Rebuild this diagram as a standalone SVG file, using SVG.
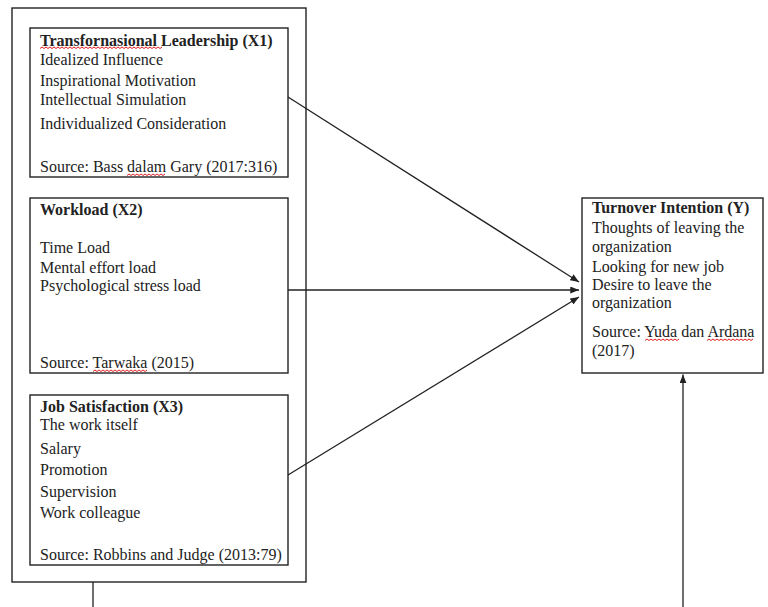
<svg xmlns="http://www.w3.org/2000/svg" width="768" height="607" viewBox="0 0 768 607">
<style>
.box{fill:#fff;stroke:#222;stroke-width:1.4}
.t{font-family:"Liberation Serif","Times New Roman",serif;font-size:16px;fill:#222}
.b{font-weight:bold}
.con{fill:none;stroke:#222;stroke-width:1.3}
.sq{fill:none;stroke:#e02020;stroke-width:1}
</style>
<defs>
<marker id="ah" viewBox="0 0 10 8" refX="10" refY="4" markerWidth="9" markerHeight="7" markerUnits="userSpaceOnUse" orient="auto">
<path d="M0,0 L10,4 L0,8 Z" fill="#222"/>
</marker>
</defs>
<rect width="768" height="607" fill="#fff"/>
<g id="outer"><rect class="box" x="12" y="8" width="294" height="574"/></g>
<g id="x1">
<rect class="box" x="30" y="28" width="258" height="149"/>
<text class="t b" x="40" y="46">Transfornasional Leadership (X1)</text>
<text class="t" x="40" y="65">Idealized Influence</text>
<text class="t" x="40" y="86">Inspirational Motivation</text>
<text class="t" x="40" y="105">Intellectual Simulation</text>
<text class="t" x="40" y="129">Individualized Consideration</text>
<text class="t" x="40" y="172">Source: Bass dalam Gary (2017:316)</text>
<path class="sq" d="M40,48.5 l2,-1.5 l2,1.5 l2,-1.5 l2,1.5 l2,-1.5 l2,1.5 l2,-1.5 l2,1.5 l2,-1.5 l2,1.5 l2,-1.5 l2,1.5 l2,-1.5 l2,1.5 l2,-1.5 l2,1.5 l2,-1.5 l2,1.5 l2,-1.5 l2,1.5 l2,-1.5 l2,1.5 l2,-1.5 l2,1.5 l2,-1.5 l2,1.5 l2,-1.5 l2,1.5 l2,-1.5 l2,1.5 l2,-1.5 l2,1.5 l2,-1.5 l2,1.5 l2,-1.5 l2,1.5 l2,-1.5 l2,1.5 l2,-1.5 l2,1.5 l2,-1.5 l2,1.5 l2,-1.5 l2,1.5 l2,-1.5 l2,1.5 l2,-1.5 l2,1.5 l2,-1.5 l2,1.5 l2,-1.5 l2,1.5 l2,-1.5 l2,1.5 l2,-1.5 l2,1.5 l2,-1.5 l2,1.5 l2,-1.5 l2,1.5 l2,-1.5"/>
<path class="sq" d="M127,175.5 l2,-1.5 l2,1.5 l2,-1.5 l2,1.5 l2,-1.5 l2,1.5 l2,-1.5 l2,1.5 l2,-1.5 l2,1.5 l2,-1.5 l2,1.5 l2,-1.5 l2,1.5 l2,-1.5 l2,1.5 l2,-1.5 l2,1.5 l2,-1.5"/>
</g>
<g id="x2">
<rect class="box" x="30" y="198" width="258" height="175"/>
<text class="t b" x="40" y="215">Workload (X2)</text>
<text class="t" x="40" y="253">Time Load</text>
<text class="t" x="40" y="273">Mental effort load</text>
<text class="t" x="40" y="291">Psychological stress load</text>
<text class="t" x="40" y="368">Source: Tarwaka (2015)</text>
<path class="sq" d="M93,371.5 l2,-1.5 l2,1.5 l2,-1.5 l2,1.5 l2,-1.5 l2,1.5 l2,-1.5 l2,1.5 l2,-1.5 l2,1.5 l2,-1.5 l2,1.5 l2,-1.5 l2,1.5 l2,-1.5 l2,1.5 l2,-1.5 l2,1.5 l2,-1.5 l2,1.5 l2,-1.5 l2,1.5 l2,-1.5 l2,1.5 l2,-1.5 l2,1.5 l2,-1.5"/>
</g>
<g id="x3">
<rect class="box" x="30" y="395" width="258" height="170"/>
<text class="t b" x="40" y="412">Job Satisfaction (X3)</text>
<text class="t" x="40" y="430">The work itself</text>
<text class="t" x="40" y="454">Salary</text>
<text class="t" x="40" y="475">Promotion</text>
<text class="t" x="40" y="497">Supervision</text>
<text class="t" x="40" y="518">Work colleague</text>
<text class="t" x="40" y="560">Source: Robbins and Judge (2013:79)</text>
</g>
<g id="y">
<rect class="box" x="582" y="198" width="181" height="175"/>
<text class="t b" x="592" y="213">Turnover Intention (Y)</text>
<text class="t" x="592" y="233">Thoughts of leaving the</text>
<text class="t" x="592" y="252">organization</text>
<text class="t" x="592" y="272">Looking for new job</text>
<text class="t" x="592" y="290">Desire to leave the</text>
<text class="t" x="592" y="308">organization</text>
<text class="t" x="592" y="337">Source: Yuda dan Ardana</text>
<text class="t" x="592" y="356">(2017)</text>
<path class="sq" d="M645,340.5 l2,-1.5 l2,1.5 l2,-1.5 l2,1.5 l2,-1.5 l2,1.5 l2,-1.5 l2,1.5 l2,-1.5 l2,1.5 l2,-1.5 l2,1.5 l2,-1.5 l2,1.5 l2,-1.5 l2,1.5 l2,-1.5"/>
<path class="sq" d="M707,340.5 l2,-1.5 l2,1.5 l2,-1.5 l2,1.5 l2,-1.5 l2,1.5 l2,-1.5 l2,1.5 l2,-1.5 l2,1.5 l2,-1.5 l2,1.5 l2,-1.5 l2,1.5 l2,-1.5 l2,1.5 l2,-1.5 l2,1.5 l2,-1.5 l2,1.5 l2,-1.5 l2,1.5 l2,-1.5"/>
</g>
<g id="connectors">
<line class="con" x1="288" y1="97" x2="579" y2="282" marker-end="url(#ah)"/>
<line class="con" x1="288" y1="290" x2="579" y2="290" marker-end="url(#ah)"/>
<line class="con" x1="288" y1="475" x2="579" y2="297" marker-end="url(#ah)"/>
<path class="con" d="M93,582 V607.8 H683 V374.5" marker-end="url(#ah)"/>
</g>
</svg>
